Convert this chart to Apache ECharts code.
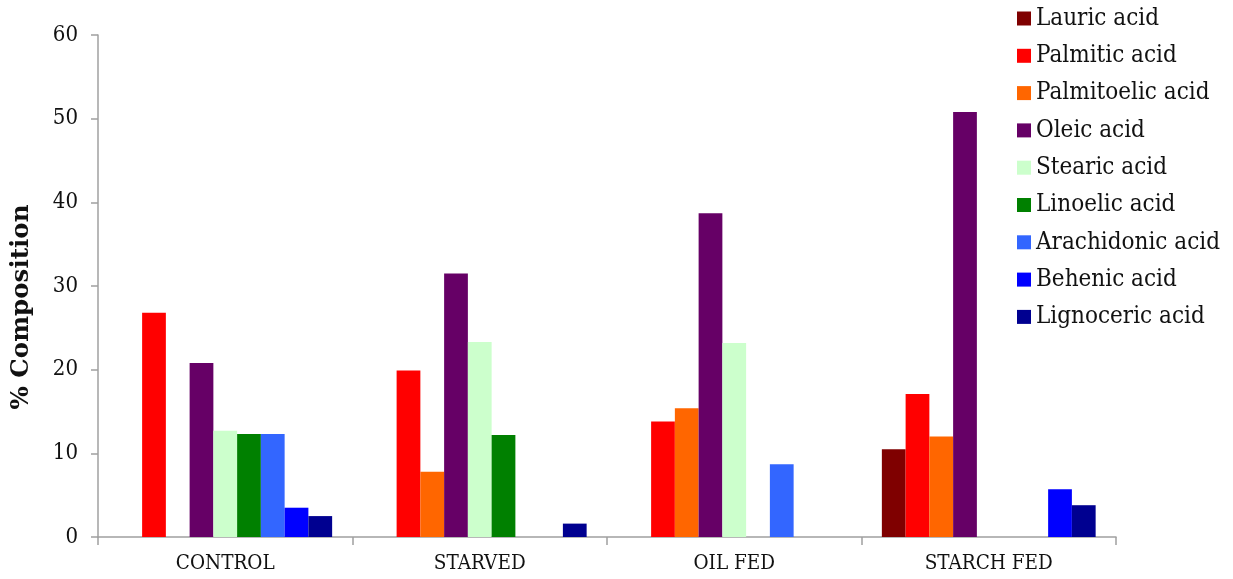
<!DOCTYPE html>
<html>
<head>
<meta charset="utf-8">
<script src="https://cdn.jsdelivr.net/npm/echarts@6/dist/echarts.min.js"></script>
<style>html,body{margin:0;padding:0;background:#fff;}#chart{width:1233px;height:579px;}</style>
</head>
<body>
<div id="chart"></div>
<script>
const categories = ['CONTROL', 'STARVED', 'OIL FED', 'STARCH FED'];
const seriesNames = ['Lauric acid', 'Palmitic acid', 'Palmitoelic acid', 'Oleic acid', 'Stearic acid', 'Linoelic acid', 'Arachidonic acid', 'Behenic acid', 'Lignoceric acid'];
const lauric      = [0, 0, 0, 10.5];
const palmitic    = [26.8, 19.9, 13.8, 17.1];
const palmitoelic = [0, 7.8, 15.4, 12.0];
const oleic       = [20.8, 31.5, 38.7, 50.8];
const stearic     = [12.7, 23.3, 23.2, 0];
const linoelic    = [12.3, 12.2, 0, 0];
const arachidonic = [12.3, 0, 8.7, 0];
const behenic     = [3.5, 0, 0, 5.7];
const lignoceric  = [2.5, 1.6, 0, 3.8];
const yTicks = [0, 10, 20, 30, 40, 50, 60];

const values = [lauric, palmitic, palmitoelic, oleic, stearic, linoelic, arachidonic, behenic, lignoceric];
const colors = ['#7f0000', '#ff0000', '#ff6600', '#660066', '#ccffcc', '#008000', '#3366ff', '#0000ff', '#000090'];
const FONT = '"DejaVu Serif Condensed", "DejaVu Serif", serif';
const FONT_NAME = '"DejaVu Serif", serif';

const chart = echarts.init(document.getElementById('chart'));
chart.setOption({
  animation: false,
  color: colors,
  textStyle: { fontFamily: FONT },
  grid: { left: 98, right: 117, top: 35, bottom: 42, containLabel: false },
  legend: {
    orient: 'vertical',
    left: 1017,
    top: 6.5,
    padding: 0,
    itemWidth: 14,
    itemHeight: 14,
    itemGap: 13.3,
    icon: 'rect',
    textStyle: { fontFamily: FONT, fontSize: 24, color: '#111' },
    data: seriesNames
  },
  xAxis: {
    type: 'category',
    data: categories,
    axisLine: { lineStyle: { color: '#a0a0a0', width: 1.5 } },
    axisTick: { show: true, length: 8, lineStyle: { color: '#a0a0a0', width: 1.5 } },
    axisLabel: { fontFamily: FONT, fontSize: 20.5, color: '#111', margin: 16 }
  },
  yAxis: {
    type: 'value',
    min: yTicks[0],
    max: yTicks[yTicks.length - 1],
    interval: 10,
    name: '% Composition',
    nameLocation: 'middle',
    nameGap: 64,
    nameTextStyle: { fontFamily: FONT_NAME, fontSize: 24.5, fontWeight: 'bold', color: '#111', padding: [0, 42, 0, 0] },
    axisLine: { show: true, lineStyle: { color: '#a0a0a0', width: 1.5 } },
    axisTick: { show: true, length: 7, lineStyle: { color: '#a0a0a0', width: 1.5 } },
    splitLine: { show: false },
    axisLabel: { fontFamily: FONT, fontSize: 22, color: '#111', margin: 20 }
  },
  series: seriesNames.map((n, i) => ({
    name: n,
    type: 'bar',
    data: values[i],
    barGap: '0%',
    barCategoryGap: '16%',
    itemStyle: { color: colors[i] }
  }))
});
</script>
</body>
</html>
